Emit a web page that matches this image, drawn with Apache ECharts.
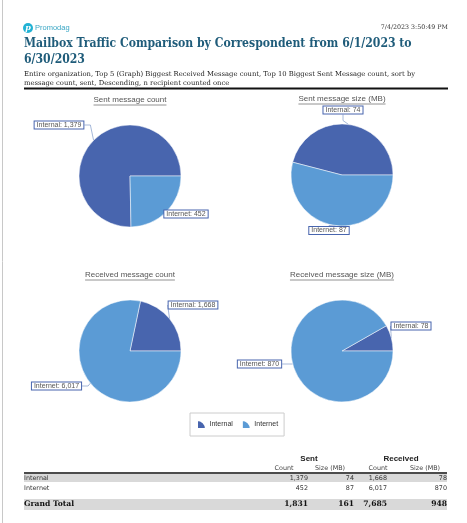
<!DOCTYPE html>
<html>
<head>
<meta charset="utf-8">
<script src="https://cdn.jsdelivr.net/npm/echarts@6/dist/echarts.min.js"></script>
<style>
html,body{margin:0;padding:0;background:#fff;}
#c{width:467px;height:523px;}
</style>
</head>
<body>
<div id="c"></div>
<script>
// ---- data ----
const categories = ['Internal', 'Internet'];
const pieTitles = ['Sent message count', 'Sent message size (MB)', 'Received message count', 'Received message size (MB)'];
const internalValues = [1379, 74, 1668, 78];
const internetValues = [452, 87, 6017, 870];
const groupHeaders = ['Sent', 'Received'];
const colHeaders = ['Count', 'Size (MB)', 'Count', 'Size (MB)'];
const totalLabel = 'Grand Total';
const reportTitle1 = 'Mailbox Traffic Comparison by Correspondent from 6/1/2023 to';
const reportTitle2 = '6/30/2023';
const subtitle1 = 'Entire organization, Top 5 (Graph) Biggest Received Message count, Top 10 Biggest Sent Message count, sort by';
const subtitle2 = 'message count, sent, Descending, n recipient counted once';
const dateText = '7/4/2023 3:50:49 PM';
const logoText = 'Promodag';

// ---- layout ----
const COL_INTERNAL = '#4865AE';
const COL_INTERNET = '#5B9BD5';
const centers = [[130, 176], [342, 175], [130, 351], [342, 351]];
const titlePos = [[130, 100], [342, 99], [130, 275], [342, 275]];
// label box centres per chart: [Internal, Internet]
const labelPos = [
  [[59, 125], [186, 214]],
  [[343, 110], [329, 230.5]],
  [[193, 305], [56.5, 386]],
  [[411, 326], [259.5, 364]]
];
const R = 51;
const fmt = v => v.toLocaleString('en-US');

const cv = document.createElement('canvas').getContext('2d');
function tw(text, font) { cv.font = font; return cv.measureText(text).width; }

const chart = echarts.init(document.getElementById('c'), null, {renderer: 'canvas'});
const graphics = [];

// page border
graphics.push({type: 'line', shape: {x1: 2.5, y1: 0, x2: 2.5, y2: 523}, style: {stroke: '#c8c8c8', lineWidth: 1}});
// logo
graphics.push({type: 'circle', shape: {cx: 28, cy: 28, r: 5}, style: {fill: '#22B2D4'}});
graphics.push({type: 'text', x: 28, y: 28, style: {text: 'p', font: 'italic bold 8px "DejaVu Serif"', fill: '#fff', textAlign: 'center', textVerticalAlign: 'middle'}});
graphics.push({type: 'text', x: 35, y: 28, style: {text: logoText, font: '7.5px "Liberation Sans"', fill: '#3AA6C4', textAlign: 'left', textVerticalAlign: 'middle'}});
// date
graphics.push({type: 'text', x: 448, y: 27, style: {text: dateText, font: '6.3px "DejaVu Serif"', fill: '#333', textAlign: 'right', textVerticalAlign: 'middle'}});
// title
const titleFont = 'bold 12.1px "DejaVu Serif Condensed", "DejaVu Serif"';
graphics.push({type: 'text', x: 24, y: 44, style: {text: reportTitle1, font: titleFont, fill: '#1F5C7A', textAlign: 'left', textVerticalAlign: 'middle'}});
graphics.push({type: 'text', x: 24, y: 60, style: {text: reportTitle2, font: titleFont, fill: '#1F5C7A', textAlign: 'left', textVerticalAlign: 'middle'}});
graphics.push({type: 'text', x: 24, y: 74, style: {text: subtitle1, font: '6.8px "DejaVu Serif"', fill: '#222', textAlign: 'left', textVerticalAlign: 'middle'}});
graphics.push({type: 'text', x: 24, y: 83, style: {text: subtitle2, font: '6.8px "DejaVu Serif"', fill: '#222', textAlign: 'left', textVerticalAlign: 'middle'}});
graphics.push({type: 'line', shape: {x1: 24, y1: 88.5, x2: 448, y2: 88.5}, style: {stroke: '#111', lineWidth: 2}});

// pie titles (underlined)
const ptFont = '8px "Liberation Sans"';
pieTitles.forEach((t, i) => {
  const [x, y] = titlePos[i];
  const w = tw(t, ptFont);
  graphics.push({type: 'text', x: x, y: y, style: {text: t, font: ptFont, fill: '#555', textAlign: 'center', textVerticalAlign: 'middle'}});
  graphics.push({type: 'line', shape: {x1: x - w / 2, y1: y + 5, x2: x + w / 2, y2: y + 5}, style: {stroke: '#777', lineWidth: 0.8}});
});

// table
const colX = [308, 354, 387, 447];
const colHX = [284, 330, 378, 425];
const hFont = 'bold 8px "Liberation Sans"';
const sFont = '6.4px "DejaVu Sans"';
const bFont = '6.4px "DejaVu Sans"';
const gFont = 'bold 7.6px "DejaVu Serif"';
graphics.push({type: 'text', x: 309, y: 459, style: {text: groupHeaders[0], font: hFont, fill: '#222', textAlign: 'center', textVerticalAlign: 'middle'}});
graphics.push({type: 'text', x: 401, y: 459, style: {text: groupHeaders[1], font: hFont, fill: '#222', textAlign: 'center', textVerticalAlign: 'middle'}});
colHeaders.forEach((h, i) => {
  graphics.push({type: 'text', x: colHX[i], y: 468, style: {text: h, font: sFont, fill: '#444', textAlign: 'center', textVerticalAlign: 'middle'}});
});
graphics.push({type: 'line', shape: {x1: 24, y1: 473, x2: 447, y2: 473}, style: {stroke: '#111', lineWidth: 1.5}});
graphics.push({type: 'rect', shape: {x: 24, y: 474, width: 423, height: 8}, style: {fill: '#d9d9d9'}});
graphics.push({type: 'rect', shape: {x: 24, y: 499, width: 423, height: 11}, style: {fill: '#d9d9d9'}});
const rowY = [478, 488];
const rows = [internalValues, internetValues];
categories.forEach((c, r) => {
  graphics.push({type: 'text', x: 24, y: rowY[r], style: {text: c, font: bFont, fill: '#333', textAlign: 'left', textVerticalAlign: 'middle'}});
  rows[r].forEach((v, i) => {
    graphics.push({type: 'text', x: colX[i], y: rowY[r], style: {text: fmt(v), font: bFont, fill: '#333', textAlign: 'right', textVerticalAlign: 'middle'}});
  });
});
graphics.push({type: 'text', x: 24, y: 504.5, style: {text: totalLabel, font: gFont, fill: '#111', textAlign: 'left', textVerticalAlign: 'middle'}});
internalValues.forEach((v, i) => {
  graphics.push({type: 'text', x: colX[i], y: 504.5, style: {text: fmt(v + internetValues[i]), font: gFont, fill: '#111', textAlign: 'right', textVerticalAlign: 'middle'}});
});

const series = pieTitles.map((t, i) => ({
  type: 'pie',
  name: t,
  center: centers[i],
  radius: R,
  startAngle: 0,
  clockwise: false,
  silent: true,
  animation: false,
  itemStyle: {borderColor: '#fff', borderWidth: 0.5},
  label: {
    show: true,
    position: 'outside',
    formatter: p => p.name + ': ' + fmt(p.value),
    fontSize: 7,
    fontFamily: 'Liberation Sans',
    color: '#555',
    backgroundColor: '#fff',
    borderColor: '#4865AE',
    borderWidth: 1,
    padding: [0, 2, -1, 2],
    lineHeight: 8
  },
  labelLine: {show: true, length: 8, length2: 6, lineStyle: {color: '#8FA6CF', width: 0.8}},
  labelLayout: p => {
    const pos = labelPos[i][p.dataIndex];
    return {x: pos[0], y: pos[1], align: 'center', verticalAlign: 'middle'};
  },
  data: categories.map((c, k) => ({name: c, value: (k === 0 ? internalValues : internetValues)[i]}))
}));

chart.setOption({
  animation: false,
  color: [COL_INTERNAL, COL_INTERNET],
  legend: {
    data: categories,
    left: 190,
    top: 413,
    orient: 'horizontal',
    icon: 'path://M0,0 A10,10 0 0 1 10,10 L0,10 Z',
    itemWidth: 10,
    itemHeight: 9,
    itemGap: 8,
    padding: [6, 6, 6, 6],
    borderColor: '#ccc',
    borderWidth: 1,
    textStyle: {fontSize: 7, fontFamily: 'Liberation Sans', color: '#333', padding: [0, 0, 0, -2]},
    selectedMode: false
  },
  series: series,
  graphic: graphics
});
</script>
</body>
</html>
